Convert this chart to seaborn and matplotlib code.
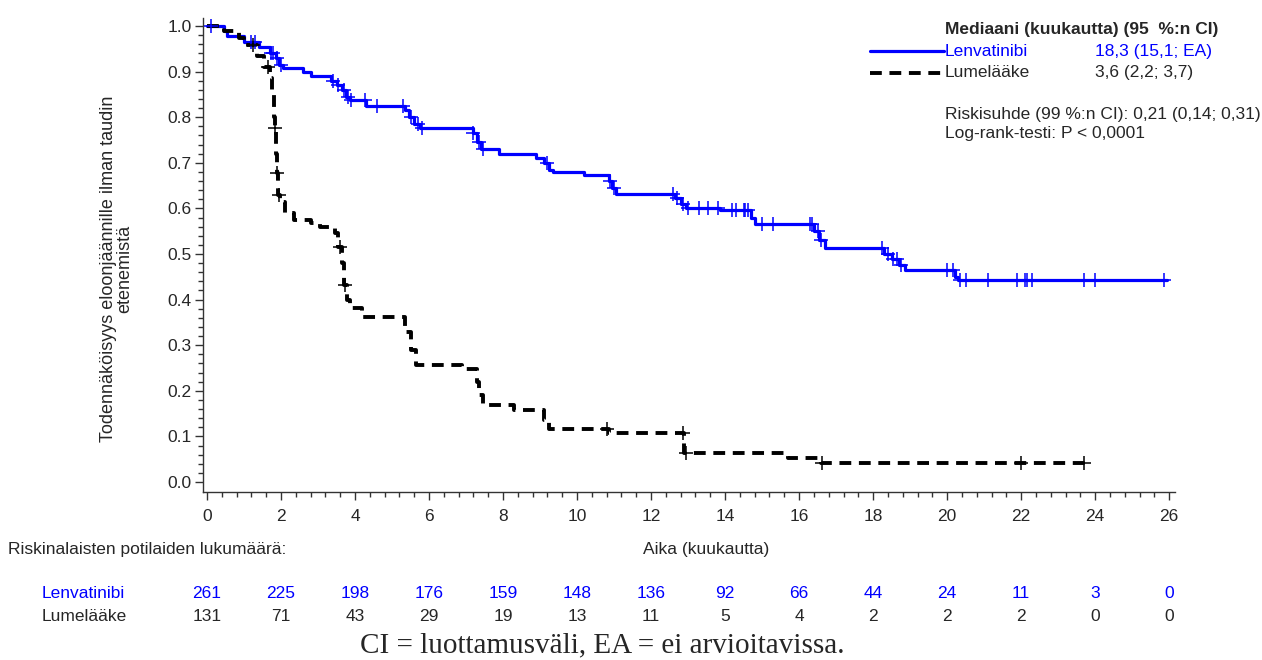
import numpy as np
import pandas as pd
import seaborn as sns
import matplotlib.pyplot as plt
from matplotlib.lines import Line2D
from matplotlib.transforms import blended_transform_factory

# Kaplan-Meier step points (time in months, survival after the step)
lenva_time = [0, 0.45, 0.55, 1.0, 1.4, 1.7, 1.85, 1.95, 2.05, 2.6, 2.8, 3.35, 3.5, 3.65,
              3.75, 3.85, 4.3, 5.35, 5.45, 5.6, 5.75, 7.2, 7.3, 7.4, 7.9, 8.9, 9.1, 9.25,
              9.35, 10.2, 10.85, 10.95, 11.05, 12.65, 12.8, 12.95, 13.85, 14.7, 14.8,
              16.4, 16.55, 16.7, 18.3, 18.5, 18.7, 18.85, 20.2, 20.3, 25.95]
lenva_surv = [1.0, 0.99, 0.978, 0.965, 0.955, 0.94, 0.93, 0.915, 0.908, 0.90, 0.89, 0.88,
              0.87, 0.86, 0.845, 0.838, 0.825, 0.815, 0.80, 0.785, 0.777, 0.765, 0.745,
              0.73, 0.72, 0.71, 0.70, 0.685, 0.68, 0.673, 0.66, 0.645, 0.632, 0.622,
              0.61, 0.601, 0.596, 0.58, 0.565, 0.55, 0.53, 0.513, 0.50, 0.49, 0.475,
              0.465, 0.45, 0.443, 0.443]
lenva_cens = [0.1, 1.2, 1.3, 1.72, 1.78, 1.88, 2.0, 3.4, 3.55, 3.7, 3.8, 3.9, 4.27, 4.6,
              5.3, 5.5, 5.7, 5.8, 7.2, 7.35, 7.45, 9.2, 10.9, 11.0, 12.6, 12.7, 12.85,
              13.0, 13.3, 13.55, 13.8, 14.2, 14.3, 14.5, 14.55, 14.62, 15.0, 15.3, 16.3,
              16.35, 16.5, 16.6, 18.25, 18.4, 18.55, 18.65, 18.75, 20.0, 20.15, 20.35,
              20.5, 21.1, 21.9, 22.1, 22.15, 22.3, 23.7, 24.0, 25.85]

plac_time = [0, 0.45, 0.85, 1.0, 1.35, 1.55, 1.7, 1.76, 1.80, 1.84, 1.87, 1.89, 1.93,
             1.98, 2.1, 2.35, 2.8, 3.05, 3.45, 3.55, 3.65, 3.7, 3.78, 3.85, 4.2, 5.35,
             5.5, 5.65, 6.9, 7.3, 7.35, 7.45, 8.3, 9.1, 9.25, 10.85, 12.9, 15.7, 16.6,
             23.9]
plac_surv = [1.0, 0.99, 0.974, 0.958, 0.935, 0.91, 0.886, 0.85, 0.80, 0.776, 0.72, 0.678,
             0.63, 0.615, 0.59, 0.575, 0.568, 0.56, 0.545, 0.515, 0.48, 0.432, 0.40,
             0.382, 0.362, 0.33, 0.29, 0.257, 0.248, 0.22, 0.19, 0.168, 0.158, 0.135,
             0.116, 0.107, 0.064, 0.053, 0.042, 0.042]
plac_cens = [1.25, 1.65, 1.845, 1.895, 1.94, 3.58, 3.72, 10.8, 12.85, 12.95, 16.62, 22.0,
             23.7]

risk_times = list(range(0, 27, 2))
risk_lenva = [261, 225, 198, 176, 159, 148, 136, 92, 66, 44, 24, 11, 3, 0]
risk_plac = [131, 71, 43, 29, 19, 13, 11, 5, 4, 2, 2, 2, 0, 0]

BLUE = '#0000ff'
FS = 12.5


def surv_at(times, surv, t):
    idx = np.searchsorted(times, t, side='right') - 1
    return np.asarray(surv)[idx]


curves = pd.concat([
    pd.DataFrame({'time': lenva_time, 'surv': lenva_surv, 'arm': 'Lenvatinibi'}),
    pd.DataFrame({'time': plac_time, 'surv': plac_surv, 'arm': 'Lumelääke'}),
], ignore_index=True)
cens = pd.concat([
    pd.DataFrame({'time': lenva_cens, 'surv': surv_at(lenva_time, lenva_surv, lenva_cens),
                  'arm': 'Lenvatinibi'}),
    pd.DataFrame({'time': plac_cens, 'surv': surv_at(plac_time, plac_surv, plac_cens),
                  'arm': 'Lumelääke'}),
], ignore_index=True)

sns.set_style("ticks")
plt.rcParams['font.family'] = ['Liberation Sans', 'DejaVu Sans']
plt.rcParams['lines.scale_dashes'] = False

fig = plt.figure(figsize=(12.62, 6.6), dpi=100)
ax = fig.add_axes([0.1609, 0.2545, 0.7702, 0.7182])

sns.lineplot(data=curves[curves.arm == 'Lenvatinibi'], x='time', y='surv', ax=ax,
             estimator=None, sort=False, color=BLUE, lw=2.3, drawstyle='steps-post')
sns.lineplot(data=curves[curves.arm == 'Lumelääke'], x='time', y='surv', ax=ax,
             estimator=None, sort=False, color='black', lw=2.8, drawstyle='steps-post',
             linestyle=(0, (8.5, 5.5)))
sns.scatterplot(data=cens[cens.arm == 'Lenvatinibi'], x='time', y='surv', ax=ax,
                marker='+', s=110, color=BLUE, linewidth=1.1, zorder=3)
sns.scatterplot(data=cens[cens.arm == 'Lumelääke'], x='time', y='surv', ax=ax,
                marker='+', s=110, color='black', linewidth=1.1, zorder=3)

ax.set_xlim(-0.108, 26.16)
ax.set_ylim(-0.022, 1.0175)
ax.set_xticks(risk_times)
ax.set_xticks(np.arange(0, 26.01, 0.4), minor=True)
ax.set_yticks(np.arange(0, 1.01, 0.1))
ax.set_yticklabels([f'{v:.1f}' for v in np.arange(0, 1.01, 0.1)])
ax.set_yticks(np.arange(0, 1.001, 0.02), minor=True)
ax.tick_params(axis='both', which='major', length=6, width=1, labelsize=12.5, color='#333333')
ax.tick_params(axis='both', which='minor', length=3.5, width=1, color='#333333')
ax.tick_params(axis='x', which='major', pad=6)
ax.tick_params(axis='y', which='major', pad=2)
for s in ['left', 'bottom']:
    ax.spines[s].set_linewidth(1)
    ax.spines[s].set_color('#333333')
sns.despine(ax=ax)

ax.set_xlabel('Aika (kuukautta)', fontsize=FS)
ax.xaxis.set_label_coords(0.5175, -0.105)
ax.set_ylabel('Todennäköisyys eloonjäännille ilman taudin\netenemistä', fontsize=13,
              linespacing=0.95)
ax.yaxis.set_label_coords(-0.072, 0.47)

# legend block
fig.text(0.7488, 0.955, 'Mediaani (kuukautta) (95  %:n CI)', fontsize=FS, weight='bold',
         va='center')
fig.add_artist(Line2D([0.689, 0.748], [0.9227, 0.9227], color=BLUE, lw=2.3))
fig.add_artist(Line2D([0.689, 0.748], [0.8894, 0.8894], color='black', lw=2.8,
                      linestyle=(0, (8.5, 5.5))))
fig.text(0.7488, 0.9227, 'Lenvatinibi', fontsize=FS, color=BLUE, va='center')
fig.text(0.7488, 0.8894, 'Lumelääke', fontsize=FS, va='center')
fig.text(0.8677, 0.9227, '18,3 (15,1; EA)', fontsize=FS, color=BLUE, va='center')
fig.text(0.8677, 0.8894, '3,6 (2,2; 3,7)', fontsize=FS, va='center')
fig.text(0.7488, 0.826, 'Riskisuhde (99 %:n CI): 0,21 (0,14; 0,31)', fontsize=FS,
         va='center')
fig.text(0.7488, 0.797, 'Log-rank-testi: P < 0,0001', fontsize=FS, va='center')

# number at risk table
fig.text(0.0063, 0.168, 'Riskinalaisten potilaiden lukumäärä:', fontsize=FS, va='center')
fig.text(0.033, 0.1015, 'Lenvatinibi', fontsize=FS, color=BLUE, va='center')
fig.text(0.033, 0.0652, 'Lumelääke', fontsize=FS, va='center')
trans = blended_transform_factory(ax.transData, fig.transFigure)
for t, a, b in zip(risk_times, risk_lenva, risk_plac):
    ax.text(t, 0.1015, str(a), transform=trans, ha='center', va='center', fontsize=FS,
            color=BLUE)
    ax.text(t, 0.0652, str(b), transform=trans, ha='center', va='center', fontsize=FS)

fig.text(0.477, 0.022, 'CI = luottamusväli, EA = ei arvioitavissa.', fontsize=21,
         family=['Liberation Serif', 'DejaVu Serif'], ha='center', va='center')

fig.savefig('out.png', dpi=100)
